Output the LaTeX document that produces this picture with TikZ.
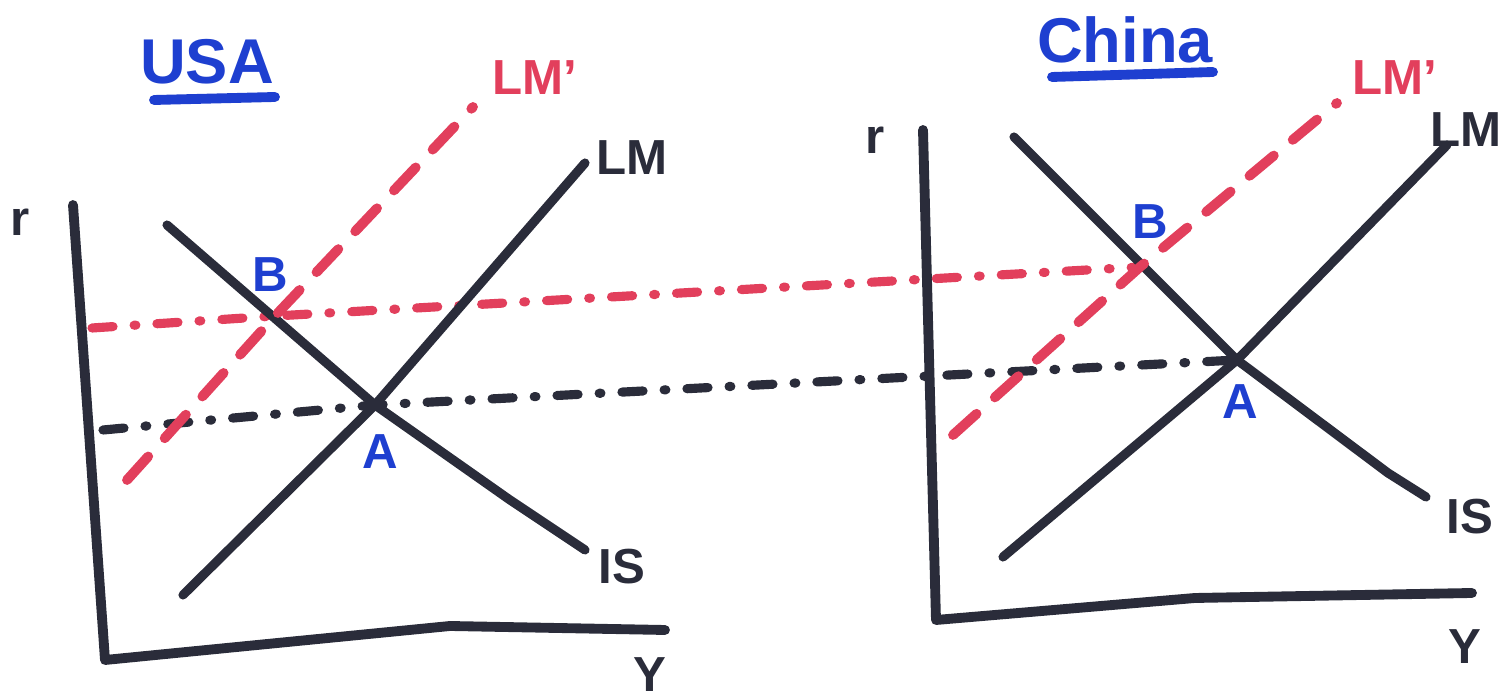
\documentclass[tikz,border=0pt]{standalone}
\usepackage{fontspec}
\setmainfont{Liberation Sans}
\usetikzlibrary{positioning}
\definecolor{inkblack}{HTML}{2A2C3A}
\definecolor{inkred}{HTML}{E23F5C}
\definecolor{inkblue}{HTML}{1E3FD0}
\tikzset{
  axisline/.style={line width=2.8pt,inkblack,line cap=round,line join=round},
  curve/.style={line width=2.6pt,inkblack,line cap=round,line join=round},
  shifted/.style={line width=2.8pt,inkred,line cap=round,dash pattern=on 9pt off 7pt},
  redlevel/.style={line width=2.6pt,inkred,line cap=round,dash pattern=on 6pt off 6pt on 0.5pt off 6pt},
  blacklevel/.style={line width=2.6pt,inkblack,line cap=round,dash pattern=on 6pt off 6pt on 0.5pt off 6pt},
  uline/.style={line width=2.8pt,inkblue,line cap=round},
  lbl/.style={inkblack,font=\bfseries\fontsize{14}{14}\selectfont},
  pointlbl/.style={inkblue,font=\bfseries\fontsize{14}{14}\selectfont},
  title/.style={inkblue,font=\bfseries\fontsize{18}{18}\selectfont}
}

\begin{document}
\begin{tikzpicture}[x=0.01cm,y=-0.01cm]
\useasboundingbox (0,0) rectangle (1508,698);

% USA panel
\coordinate (uTop) at (73,205);
\coordinate (uO) at (105,660);
\coordinate (uBend) at (450,626);
\coordinate (uEnd) at (665,630);
\coordinate (uA) at (375,405);
\coordinate (uB) at (275,316);
\coordinate (uLMlo) at (183,595);
\coordinate (uLMhi) at (585,163);
\coordinate (uIShi) at (167,225);
\coordinate (uISbend) at (510,500);
\coordinate (uISlo) at (585,550);
\coordinate (uLMplo) at (127,480);
\coordinate (uLMphi) at (473,107);
\coordinate (uRedL) at (92,328);
\coordinate (uBlackL) at (103,430);

% China panel
\coordinate (cTop) at (923,130);
\coordinate (cO) at (936,620);
\coordinate (cBend) at (1195,598);
\coordinate (cEnd) at (1472,593);
\coordinate (cA) at (1237,360);
\coordinate (cB) at (1140,267);
\coordinate (cLMlo) at (1003,557);
\coordinate (cLMhi) at (1447,145);
\coordinate (cIShi) at (1014,137);
\coordinate (cISbend) at (1388,473);
\coordinate (cISlo) at (1426,497);
\coordinate (cLMplo) at (953,435);
\coordinate (cLMphi) at (1337,103);

% Titles
\node[title] (usa) at (207,62) {USA};
\node[title] (china) at (1125,40) {China};
\coordinate (usaL) at (154,100);
\coordinate (usaR) at (275,97);
\coordinate (chinaL) at (1052,77);
\coordinate (chinaR) at (1213,72);
\draw[uline] (usaL) -- (usaR);
\draw[uline] (chinaL) -- (chinaR);

% Axes
\draw[axisline] (uTop) -- (uO) -- (uBend) -- (uEnd);
\draw[axisline] (cTop) -- (cO) -- (cBend) -- (cEnd);
\node[lbl] (ur) at (20,222) {r};
\node[lbl] (uY) at (650,675) {Y};
\node[lbl] (cr) at (875,140) {r};
\node[lbl] (cY) at (1465,647) {Y};

% Interest rate levels carried across
\draw[redlevel] (uRedL) -- (uB) -- (cB);
\draw[blacklevel] (uBlackL) -- (uA) -- (cA);

% IS and LM curves
\draw[curve] (uLMlo) -- (uA) -- (uLMhi);
\draw[curve] (uIShi) -- (uA) -- (uISbend) -- (uISlo);
\draw[curve] (cLMlo) -- (cA) -- (cLMhi);
\draw[curve] (cIShi) -- (cA) -- (cISbend) -- (cISlo);

% Shifted LM
\draw[shifted] (uLMplo) -- (uB) -- (uLMphi);
\draw[shifted] (cLMplo) -- (cB) -- (cLMphi);

% Curve labels
\node[lbl] (uLM) at (632,158) {LM};
\node[lbl] (uIS) at (622,567) {IS};
\node[lbl,inkred] (uLMp) at (535,78) {LM'};
\node[lbl] (cLM) at (1466,130) {LM};
\node[lbl] (cIS) at (1470,517) {IS};
\node[lbl,inkred] (cLMp) at (1395,78) {LM'};

% Equilibria
\node[pointlbl] (uAl) at (380,452) {A};
\node[pointlbl] (uBl) at (270,275) {B};
\node[pointlbl] (cAl) at (1240,402) {A};
\node[pointlbl] (cBl) at (1150,222) {B};

\end{tikzpicture}
\end{document}
